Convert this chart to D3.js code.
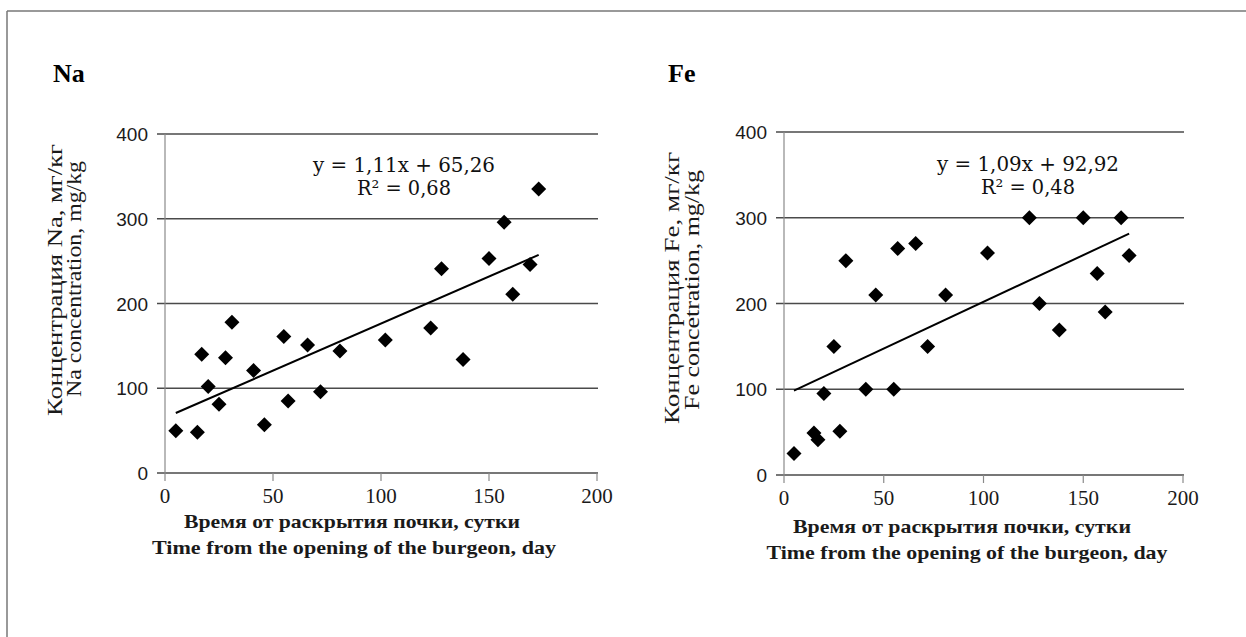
<!DOCTYPE html>
<html>
<head>
<meta charset="utf-8">
<script src="https://cdn.jsdelivr.net/npm/d3@7"></script>
<style>
  html, body { margin: 0; padding: 0; background: #fff; }
  svg { display: block; }
  .serif { font-family: "Liberation Serif", "Times New Roman", serif; }
  .sans { font-family: "Liberation Sans", Arial, sans-serif; }
  .eq { font-family: "DejaVu Serif", "Liberation Serif", serif; }
</style>
</head>
<body>
<svg id="chart" width="1246" height="637"></svg>
<script>
// ---------- DATA ----------
const days = [5, 15, 17, 20, 25, 28, 31, 41, 46, 55, 57, 66, 72, 81, 102, 123, 128, 138, 150, 157, 161, 169, 173];
const naValues = [50, 48, 140, 102, 81, 136, 178, 121, 57, 161, 85, 151, 96, 144, 157, 171, 241, 134, 253, 296, 211, 246, 335];
const feValues = [25, 49, 41, 95, 150, 51, 250, 100, 210, 100, 264, 270, 150, 210, 259, 300, 200, 169, 300, 235, 190, 300, 256];
const naTrend = [1.11, 65.26];   // slope, intercept
const feTrend = [1.09, 92.92];
const naEquation = ["y = 1,11x + 65,26", "R² = 0,68"];
const feEquation = ["y = 1,09x + 92,92", "R² = 0,48"];
const xTicks = [0, 50, 100, 150, 200];
const yTicks = [0, 100, 200, 300, 400];
const xTitle = ["Время от раскрытия почки, сутки", "Time from the opening of the burgeon, day"];
const naYTitle = ["Концентрация Na, мг/кг", "Na concentration, mg/kg"];
const feYTitle = ["Концентрация Fe, мг/кг", "Fe concetration, mg/kg"];

// ---------- LAYOUT ----------
const svg = d3.select("#chart");

// frame (only left and top edges visible)
svg.append("line").attr("x1", 7).attr("y1", 11).attr("x2", 1246).attr("y2", 11)
  .attr("stroke", "#777").attr("stroke-width", 1.5);
svg.append("line").attr("x1", 7).attr("y1", 11).attr("x2", 7).attr("y2", 637)
  .attr("stroke", "#777").attr("stroke-width", 1.5);

const panels = [
  { title: "Na", values: naValues, trend: naTrend, eq: naEquation, yTitle: naYTitle,
    x0: 165, x1: 597, y0: 473, y1: 134, titleX: 53, titleY: 82,
    eqX: 404, eqY: 172, yTitleX: [55, 74], yTitleY: [280, 279], yTitleLen: [272, 236],
    xTitleX: [352, 354], xTitleY: [528, 554], xTitleLen: [336, 404] },
  { title: "Fe", values: feValues, trend: feTrend, eq: feEquation, yTitle: feYTitle,
    x0: 784, x1: 1183, y0: 475, y1: 132, titleX: 668, titleY: 82,
    eqX: 1028, eqY: 171, yTitleX: [672, 692], yTitleY: [288, 290], yTitleLen: [272, 240],
    xTitleX: [962, 967], xTitleY: [533, 559], xTitleLen: [338, 401] }
];

const gridColor = "#4a4a4a";

panels.forEach(p => {
  const x = d3.scaleLinear().domain([0, 200]).range([p.x0, p.x1]);
  const y = d3.scaleLinear().domain([0, 400]).range([p.y0, p.y1]);
  const g = svg.append("g");

  // horizontal gridlines (incl. left tick stub)
  g.selectAll("line.grid").data(yTicks).enter().append("line")
    .attr("x1", p.x0 - 8).attr("x2", x(200) + 1)
    .attr("y1", d => y(d)).attr("y2", d => y(d))
    .attr("stroke", gridColor).attr("stroke-width", 1.4);

  // y axis line
  g.append("line").attr("x1", p.x0).attr("x2", p.x0)
    .attr("y1", y(400)).attr("y2", y(0))
    .attr("stroke", "#8a8a8a").attr("stroke-width", 1.2);

  // x axis ticks (downward)
  g.selectAll("line.xt").data(xTicks).enter().append("line")
    .attr("x1", d => x(d)).attr("x2", d => x(d))
    .attr("y1", y(0)).attr("y2", y(0) + 8)
    .attr("stroke", "#8a8a8a").attr("stroke-width", 1.2);

  // y tick labels
  g.selectAll("text.yl").data(yTicks).enter().append("text")
    .attr("class", "sans")
    .attr("x", p.x0 - 17).attr("y", d => y(d) + 7)
    .attr("text-anchor", "end")
    .attr("font-size", 19).attr("fill", "#1a1a1a")
    .text(d => d);

  // x tick labels
  g.selectAll("text.xl").data(xTicks).enter().append("text")
    .attr("class", "serif")
    .attr("x", d => x(d)).attr("y", y(0) + 30)
    .attr("text-anchor", "middle")
    .attr("font-size", 21).attr("fill", "#1a1a1a")
    .text(d => d);

  // trend line
  const xmin = d3.min(days), xmax = d3.max(days);
  g.append("line")
    .attr("x1", x(xmin)).attr("y1", y(p.trend[0] * xmin + p.trend[1]))
    .attr("x2", x(xmax)).attr("y2", y(p.trend[0] * xmax + p.trend[1]))
    .attr("stroke", "#000").attr("stroke-width", 2);

  // diamond markers
  const r = 7.5;
  g.selectAll("path.pt").data(days.map((d, i) => [d, p.values[i]])).enter().append("path")
    .attr("d", d => {
      const cx = x(d[0]), cy = y(d[1]);
      return `M${cx},${cy - r}L${cx + r},${cy}L${cx},${cy + r}L${cx - r},${cy}Z`;
    })
    .attr("fill", "#000");

  // equation text
  g.append("text").attr("class", "eq").attr("x", p.eqX).attr("y", p.eqY)
    .attr("text-anchor", "middle")
    .attr("font-size", 20).attr("fill", "#111")
    .attr("textLength", 182).attr("lengthAdjust", "spacingAndGlyphs")
    .text(p.eq[0]);
  g.append("text").attr("class", "eq").attr("x", p.eqX).attr("y", p.eqY + 23)
    .attr("text-anchor", "middle")
    .attr("font-size", 20).attr("fill", "#111")
    .attr("textLength", 94).attr("lengthAdjust", "spacingAndGlyphs")
    .text(p.eq[1]);

  // panel title
  g.append("text").attr("class", "serif").attr("x", p.titleX).attr("y", p.titleY)
    .attr("font-weight", "bold").attr("font-size", 26).attr("fill", "#000")
    .text(p.title);

  // y axis titles (rotated)
  p.yTitle.forEach((t, i) => {
    g.append("text").attr("class", "serif")
      .attr("transform", `translate(${p.yTitleX[i] + 7},${p.yTitleY[i]}) rotate(-90)`)
      .attr("text-anchor", "middle")
      .attr("font-size", 20).attr("fill", "#1a1a1a")
      .attr("textLength", p.yTitleLen[i]).attr("lengthAdjust", "spacingAndGlyphs")
      .text(t);
  });

  // x axis titles
  xTitle.forEach((t, i) => {
    g.append("text").attr("class", "serif")
      .attr("x", p.xTitleX[i]).attr("y", p.xTitleY[i])
      .attr("text-anchor", "middle")
      .attr("font-weight", "bold").attr("font-size", 19).attr("fill", "#1a1a1a")
      .attr("textLength", p.xTitleLen[i]).attr("lengthAdjust", "spacingAndGlyphs")
      .text(t);
  });
});
</script>
</body>
</html>
